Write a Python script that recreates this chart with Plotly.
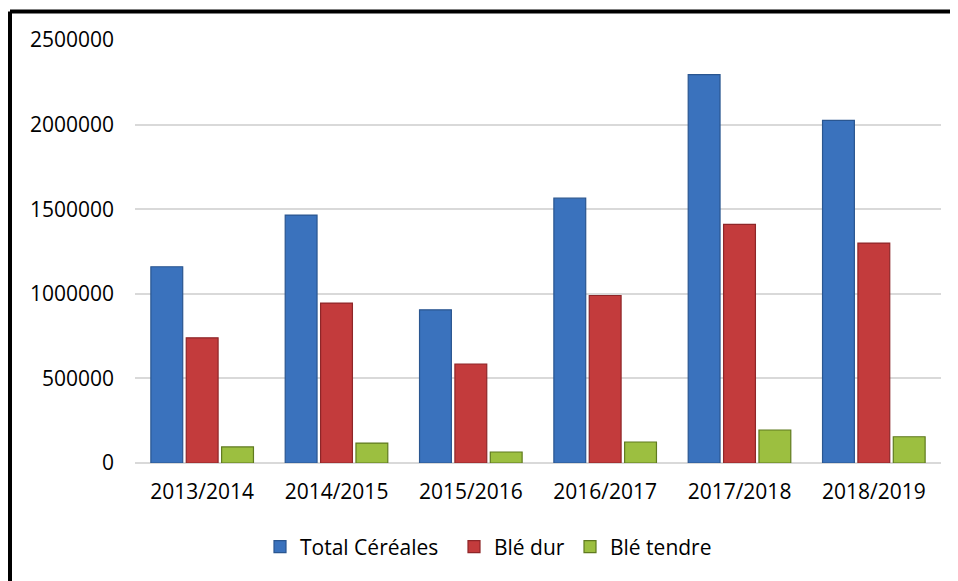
import plotly.graph_objects as go

categories = ["2013/2014", "2014/2015", "2015/2016", "2016/2017", "2017/2018", "2018/2019"]
total_cereales = [1160000, 1465000, 905000, 1565000, 2295000, 2025000]
ble_dur = [740000, 945000, 585000, 990000, 1410000, 1300000]
ble_tendre = [95000, 118000, 65000, 124000, 195000, 155000]
y_ticks = [0, 500000, 1000000, 1500000, 2000000, 2500000]

# the page body adds an 8px offset; figure coordinates = screen coordinates - 8
OFF = 8
W, H = 958 - OFF, 581 - OFF
L, T = 135 - OFF, 40 - OFF
R = W - (941 - OFF)
B = H - (463 - OFF)
PW, PH = W - L - R, H - T - B

def px_x(p):
    return (p - OFF - L) / PW

def px_y(p):
    return (H - B - (p - OFF)) / PH

FONT = "Open Sans"
FS = 21

series = [
    ("Total Céréales", total_cereales, "#3a72bd", "#2a5690", "legend", 300),
    ("Blé dur", ble_dur, "#c33b3c", "#8e2628", "legend2", 494),
    ("Blé tendre", ble_tendre, "#9cbf40", "#5f7a1f", "legend3", 610),
]

fig = go.Figure()
for name, vals, col, edge, leg, _ in series:
    fig.add_trace(go.Bar(
        x=categories, y=vals, name=name, legend=leg,
        marker=dict(color=col, line=dict(color=edge, width=1.2)),
    ))

legend_common = dict(
    orientation="h", yanchor="middle", y=px_y(547), xanchor="left",
    font=dict(family=FONT, size=FS, color="#000000"),
    bgcolor="rgba(0,0,0,0)", borderwidth=0,
)
layout_legends = {}
for name, vals, col, edge, leg, text_x in series:
    layout_legends[leg] = dict(legend_common, x=px_x(text_x - 40))

fig.update_layout(
    width=W, height=H,
    margin=dict(l=L, r=R, t=T, b=B, pad=0),
    paper_bgcolor="#ffffff", plot_bgcolor="#ffffff",
    barmode="group", bargap=0.21, bargroupgap=0.1,
    showlegend=True,
    font=dict(family=FONT, size=FS, color="#000000"),
    xaxis=dict(
        showgrid=False, showline=False, zeroline=False,
        tickfont=dict(family=FONT, size=FS, color="#000000"),
        ticks="", ticklabelstandoff=14,
    ),
    yaxis=dict(
        range=[0, 2500000], tickvals=y_ticks, tickformat="d",
        showgrid=True, gridcolor="#d9d9d9", gridwidth=1.5,
        zeroline=True, zerolinecolor="#d9d9d9", zerolinewidth=2,
        showline=False, ticks="", ticklabelstandoff=20,
        tickfont=dict(family=FONT, size=FS, color="#000000"),
    ),
    **layout_legends,
)

# outer black frame (only top and left edges visible in the canvas)
fx = px_x(10)
fy = px_y(11.5)
fig.add_shape(type="line", xref="paper", yref="paper", x0=fx, x1=px_x(958), y0=fy, y1=fy,
              line=dict(color="#000000", width=4), layer="above")
fig.add_shape(type="line", xref="paper", yref="paper", x0=fx, x1=fx, y0=fy, y1=px_y(581),
              line=dict(color="#000000", width=4), layer="above")

fig.write_html("out.html", config={"displayModeBar": False})
